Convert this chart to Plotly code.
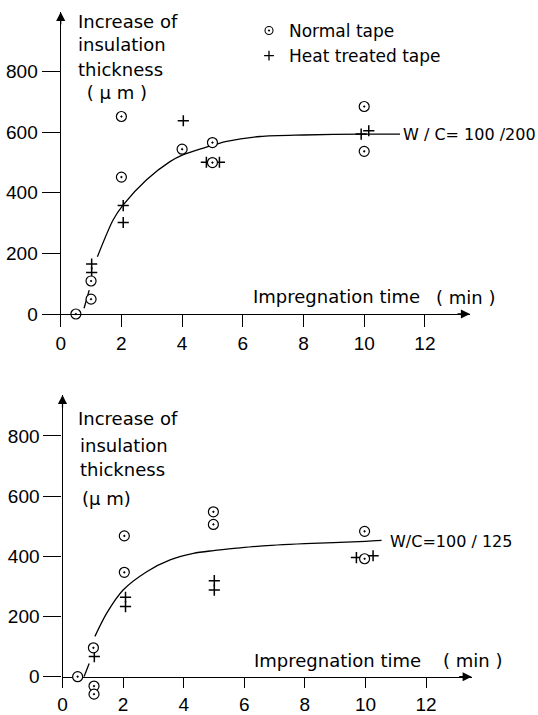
import plotly.graph_objects as go

# ---------------- data ----------------
top_normal_x = [0.5, 1.0, 1.0, 2.0, 2.0, 4.0, 5.0, 5.0, 10.0, 10.0]
top_normal_y = [0, 109, 49, 652, 452, 544, 566, 500, 685, 537]
top_heat_x = [1.02, 1.02, 2.06, 2.06, 4.04, 4.8, 5.23, 9.9, 10.15]
top_heat_y = [165, 137, 358, 302, 638, 501, 501, 594, 605]
top_curve_x = [0.77, 0.94, None, 1.21, 1.73, 2.06, 2.83, 3.6, 4.04, 4.7, 5.47, 6.57, 8.0, 10.0, 11.18]
top_curve_y = [19, 79, None, 189, 311, 360, 443, 503, 526, 548, 570, 586, 591, 594, 594]
top_label = "W / C= 100 /200"

bot_normal_x = [0.5, 1.02, 1.04, 1.04, 2.04, 2.04, 4.98, 4.98, 9.97, 9.97]
bot_normal_y = [0, 96, -31, -58, 468, 347, 548, 506, 483, 392]
bot_heat_x = [1.05, 2.08, 2.08, 5.01, 5.01, 9.7, 10.25]
bot_heat_y = [67, 264, 233, 319, 288, 396, 402]
bot_curve_x = [0.71, 0.88, None, 1.07, 1.46, 2.0, 2.78, 3.55, 4.32, 4.98, 5.75, 6.51, 8.0, 10.0, 10.53]
bot_curve_y = [0, 44, None, 134, 211, 288, 349, 388, 410, 419, 427, 434, 442, 450, 453]
bot_label = "W/C=100 / 125"

x_ticks = [0, 2, 4, 6, 8, 10, 12]
y_ticks = [0, 200, 400, 600, 800]
legend_names = ["Normal tape", "Heat treated tape"]
y_title_top = ["Increase of", "insulation", "thickness", " ( μ m )"]
y_title_bot = ["Increase of", "insulation", "thickness", "(μ m)"]
x_title = "Impregnation time"
x_unit = "( min )"

# ---------------- layout helpers ----------------
W, H = 538, 715
TXT = "DejaVu Sans, sans-serif"
TICK = "Liberation Sans, Arial, sans-serif"


def px(x):
    return x / W


def py(y):
    return 1 - y / H


# pixel geometry of the two panels
T_X0, T_XEND, T_XS = 60.7, 470.0, 30.35     # x=0 pixel, axis end pixel, px per minute
T_Y0, T_YTOP, T_YS = 314.0, 12.0, 0.3029    # y=0 pixel, arrow tip pixel, px per micron
B_X0, B_XEND, B_XS = 62.5, 471.7, 30.3
B_Y0, B_YTOP, B_YS = 676.7, 395.0, 0.3009
B_EXTRA = 30.0                               # pixels below the bottom axis for the hidden helper axis

fig = go.Figure()

circle = dict(symbol="circle-dot", size=10, color="white", line=dict(color="black", width=1.2))
plus = dict(symbol="cross-thin-open", size=8, color="black", line=dict(color="black", width=1.5))
curve_line = dict(color="black", width=1.3, shape="spline", smoothing=0.8)

# top panel
fig.add_trace(go.Scatter(x=top_curve_x, y=top_curve_y, mode="lines", xaxis="x", yaxis="y",
                         line=curve_line, connectgaps=False, showlegend=False, hoverinfo="skip"))
fig.add_trace(go.Scatter(x=top_heat_x, y=top_heat_y, mode="markers", xaxis="x", yaxis="y",
                         marker=plus, name=legend_names[1], showlegend=False, cliponaxis=False))
fig.add_trace(go.Scatter(x=top_normal_x, y=top_normal_y, mode="markers", xaxis="x", yaxis="y",
                         marker=circle, name=legend_names[0], showlegend=False, cliponaxis=False))

# bottom panel
fig.add_trace(go.Scatter(x=bot_curve_x, y=bot_curve_y, mode="lines", xaxis="x2", yaxis="y2",
                         line=curve_line, connectgaps=False, showlegend=False, hoverinfo="skip"))
fig.add_trace(go.Scatter(x=bot_heat_x, y=bot_heat_y, mode="markers", xaxis="x2", yaxis="y2",
                         marker=plus, name=legend_names[1], showlegend=False, cliponaxis=False))
# normal tape of bottom panel has points below zero -> hidden helper axes with the same scale
fig.add_trace(go.Scatter(x=bot_normal_x, y=bot_normal_y, mode="markers", xaxis="x3", yaxis="y3",
                         marker=circle, name=legend_names[0], showlegend=False, cliponaxis=False))

# legend-only traces
fig.add_trace(go.Scatter(x=[None], y=[None], mode="markers", name=legend_names[0],
                         marker=dict(symbol="circle-dot", size=8, color="white",
                                     line=dict(color="black", width=1.1))))
fig.add_trace(go.Scatter(x=[None], y=[None], mode="markers", name=legend_names[1],
                         marker=dict(symbol="cross-thin-open", size=7, color="black",
                                     line=dict(color="black", width=1.3))))

axis_common = dict(showgrid=False, zeroline=False, showline=True, linecolor="black", linewidth=1.3,
                   ticks="outside", tickcolor="black", tickwidth=1.3, fixedrange=True, automargin=False,
                   tickfont=dict(family=TICK, size=19, color="black"))

fig.update_layout(
    xaxis=dict(domain=[px(T_X0), px(T_XEND)], range=[0, (T_XEND - T_X0) / T_XS], anchor="y",
               tickvals=x_ticks, ticklen=12, **axis_common),
    yaxis=dict(domain=[py(T_Y0), py(T_YTOP)], range=[0, (T_Y0 - T_YTOP) / T_YS], anchor="x",
               tickvals=y_ticks, ticklen=18, **axis_common),
    xaxis2=dict(domain=[px(B_X0), px(B_XEND)], range=[0, (B_XEND - B_X0) / B_XS], anchor="y2",
                tickvals=x_ticks, ticklen=10, **axis_common),
    yaxis2=dict(domain=[py(B_Y0), py(B_YTOP)], range=[0, (B_Y0 - B_YTOP) / B_YS], anchor="x2",
                tickvals=y_ticks, ticklen=18, **axis_common),
    xaxis3=dict(domain=[px(B_X0), px(B_XEND)], range=[0, (B_XEND - B_X0) / B_XS], anchor="y3",
                visible=False, fixedrange=True, automargin=False),
    yaxis3=dict(domain=[py(B_Y0 + B_EXTRA), py(B_YTOP)],
                range=[-B_EXTRA / B_YS, (B_Y0 - B_YTOP) / B_YS], anchor="x3",
                visible=False, fixedrange=True, automargin=False),
)

ann = []
# arrowheads at axis ends
for xa, ya, xr, yr in [("x", "y", (T_XEND - T_X0) / T_XS, (T_Y0 - T_YTOP) / T_YS),
                       ("x2", "y2", (B_XEND - B_X0) / B_XS, (B_Y0 - B_YTOP) / B_YS)]:
    ann.append(dict(x=xr, y=0, xref=xa, yref=ya, ax=-14, ay=0, showarrow=True, text="",
                    arrowhead=2, arrowsize=1.4, arrowwidth=1.3, arrowcolor="black", standoff=0))
    ann.append(dict(x=0, y=yr, xref=xa, yref=ya, ax=0, ay=14, showarrow=True, text="",
                    arrowhead=2, arrowsize=1.4, arrowwidth=1.3, arrowcolor="black", standoff=0))

# y titles
for lines, xs, ys in [(y_title_top, [76, 76, 76, 79], [21, 44, 69, 92]),
                      (y_title_bot, [76, 78, 78, 80], [418, 445, 470, 498])]:
    for t, xx, yy in zip(lines, xs, ys):
        ann.append(dict(x=px(xx), y=py(yy), xref="paper", yref="paper", text=t, showarrow=False,
                        xanchor="left", yanchor="middle", font=dict(family=TXT, size=18, color="black")))

# x titles
for t, xx, yy in [(x_title, 251, 296), (x_unit, 434, 297), (x_title, 252, 660), (x_unit, 441, 660)]:
    ann.append(dict(x=px(xx), y=py(yy), xref="paper", yref="paper", text=t, showarrow=False,
                    xanchor="left", yanchor="middle", font=dict(family=TXT, size=18, color="black")))

# curve labels
ann.append(dict(x=top_curve_x[-1], y=top_curve_y[-1], xref="x", yref="y", text=top_label,
                showarrow=False, xanchor="left", yanchor="middle", xshift=1,
                font=dict(family=TXT, size=16, color="black")))
ann.append(dict(x=bot_curve_x[-1], y=bot_curve_y[-1], xref="x2", yref="y2", text=bot_label,
                showarrow=False, xanchor="left", yanchor="middle", xshift=6, yshift=-1,
                font=dict(family=TXT, size=16, color="black")))

fig.update_layout(
    width=W, height=H, margin=dict(l=0, r=0, t=0, b=0, autoexpand=False),
    paper_bgcolor="white", plot_bgcolor="rgba(0,0,0,0)",
    annotations=ann,
    legend=dict(x=px(249), y=py(13), xanchor="left", yanchor="top", bgcolor="rgba(0,0,0,0)",
                font=dict(family=TXT, size=17, color="black"), tracegroupgap=0, itemwidth=30),
    showlegend=True,
)

fig.write_html("out.html")
